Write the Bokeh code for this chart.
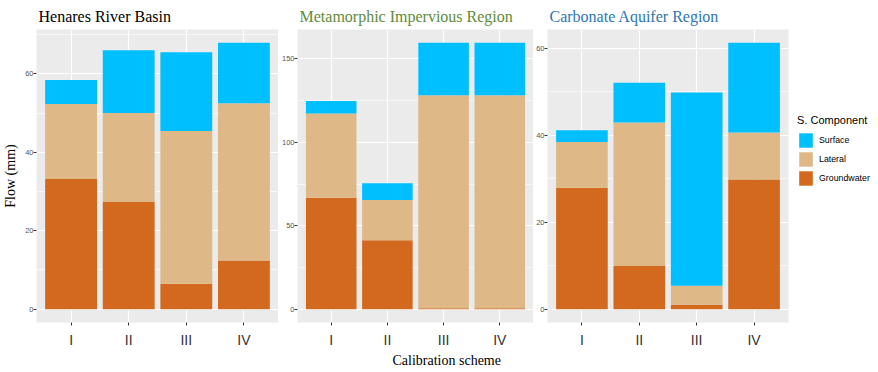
from bokeh.plotting import figure
from bokeh.layouts import row
from bokeh.models import ColumnDataSource, FixedTicker, Legend, LegendItem, Title, Range1d
from bokeh.embed import file_html
from bokeh.resources import INLINE

schemes = [1, 2, 3, 4]
scheme_labels = ["I", "II", "III", "IV"]
components = ["Groundwater", "Lateral", "Surface"]
colors = ["#D2691E", "#DEB887", "#00BFFF"]

henares_groundwater = [33.2, 27.3, 6.5, 12.4]
henares_lateral = [19.1, 22.7, 38.9, 40.1]
henares_surface = [6.1, 16.0, 20.1, 15.4]

metamorphic_groundwater = [66.8, 41.3, 0.5, 0.5]
metamorphic_lateral = [50.5, 24.1, 127.7, 127.7]
metamorphic_surface = [7.4, 10.0, 31.4, 31.4]

carbonate_groundwater = [27.9, 9.9, 1.0, 29.8]
carbonate_lateral = [10.5, 33.0, 4.4, 10.8]
carbonate_surface = [2.7, 9.1, 44.4, 20.6]

henares_ticks = [0, 20, 40, 60]
henares_minor = [10, 30, 50, 70]
metamorphic_ticks = [0, 50, 100, 150]
metamorphic_minor = [25, 75, 125]
carbonate_ticks = [0, 20, 40, 60]
carbonate_minor = [10, 30, 50]

SANS = "Liberation Sans"
SERIF = "Liberation Serif"


def make_panel(title, title_color, gw, lat, sur, ticks, minor, frame_w,
               bl, br, bb):
    totals = [a + b + c for a, b, c in zip(gw, lat, sur)]
    ymax = max(totals)
    p = figure(frame_width=frame_w, frame_height=293,
               x_range=Range1d(0.4, 4.6),
               y_range=Range1d(-0.05 * ymax, 1.05 * ymax),
               output_backend="svg", toolbar_location=None,
               min_border_left=bl, min_border_right=br,
               min_border_top=26, min_border_bottom=bb)
    p.title.text = title
    p.title.text_font = SERIF
    p.title.text_font_size = "16px"
    p.title.text_font_style = "normal"
    p.title.text_color = title_color
    p.title.offset = 2
    p.title.standoff = 10
    p.background_fill_color = "#EBEBEB"
    p.border_fill_color = "white"
    p.outline_line_color = None

    src = ColumnDataSource(dict(x=schemes, Groundwater=gw, Lateral=lat, Surface=sur))
    rs = p.vbar_stack(components, x="x", width=0.9, source=src,
                      fill_color=colors, line_color=None)

    p.xaxis.ticker = FixedTicker(ticks=schemes)
    p.xaxis.major_label_overrides = {s: l for s, l in zip(schemes, scheme_labels)}
    p.yaxis.ticker = FixedTicker(ticks=ticks, minor_ticks=minor)

    for ax in (p.xaxis, p.yaxis):
        ax.axis_line_color = None
        ax.major_tick_line_color = "#333333"
        ax.major_tick_out = 3
        ax.major_tick_in = 0
        ax.minor_tick_line_color = None
        ax.minor_tick_out = 0
        ax.minor_tick_in = 0
    p.xaxis.major_label_text_font = SANS
    p.xaxis.major_label_text_font_size = "14px"
    p.xaxis.major_label_text_color = "#333333"
    p.xaxis.major_label_standoff = 6
    p.yaxis.major_label_text_font = SANS
    p.yaxis.major_label_text_font_size = "7.5px"
    p.yaxis.major_label_text_color = "#555555"
    p.yaxis.major_label_standoff = 0

    p.xgrid.grid_line_color = "white"
    p.xgrid.grid_line_width = 1.2
    p.ygrid.grid_line_color = "white"
    p.ygrid.grid_line_width = 1.2
    p.ygrid.minor_grid_line_color = "white"
    p.ygrid.minor_grid_line_width = 0.6
    return p, rs


p1, r1 = make_panel("Henares River Basin", "black",
                    henares_groundwater, henares_lateral, henares_surface,
                    henares_ticks, henares_minor, 242, 28, 0, 40)
p1.yaxis.axis_label = "Flow (mm)"
p1.yaxis.axis_label_text_font = SERIF
p1.yaxis.axis_label_text_font_size = "14px"
p1.yaxis.axis_label_text_font_style = "normal"
p1.yaxis.axis_label_text_color = "black"
p1.yaxis.axis_label_standoff = 4

p2, r2 = make_panel("Metamorphic Impervious Region", "#5E8C3A",
                    metamorphic_groundwater, metamorphic_lateral, metamorphic_surface,
                    metamorphic_ticks, metamorphic_minor, 236, 15, 0, 0)
xlab = Title(text="Calibration scheme", align="left", offset=95,
             text_font=SERIF, text_font_size="14px", text_font_style="normal",
             text_color="black", standoff=0)
p2.add_layout(xlab, "below")

p3, r3 = make_panel("Carbonate Aquifer Region", "#2E75B6",
                    carbonate_groundwater, carbonate_lateral, carbonate_surface,
                    carbonate_ticks, carbonate_minor, 241, 14, 2, 40)

legend = Legend(items=[LegendItem(label=components[i], renderers=[r3[i]]) for i in (2, 1, 0)],
                title="S. Component", title_text_font=SANS, title_text_font_size="11px",
                title_text_font_style="normal", title_text_color="black", title_standoff=5,
                label_text_font=SANS, label_text_font_size="8.8px", label_text_color="black",
                glyph_width=17, glyph_height=18, label_height=18, spacing=1,
                label_standoff=5, padding=0, margin=0, border_line_color=None,
                background_fill_color=None, location=(9, 135))
p3.add_layout(legend, "right")

layout = row(p1, p2, p3, spacing=0)
open("out.html", "w").write(file_html(layout, INLINE))
